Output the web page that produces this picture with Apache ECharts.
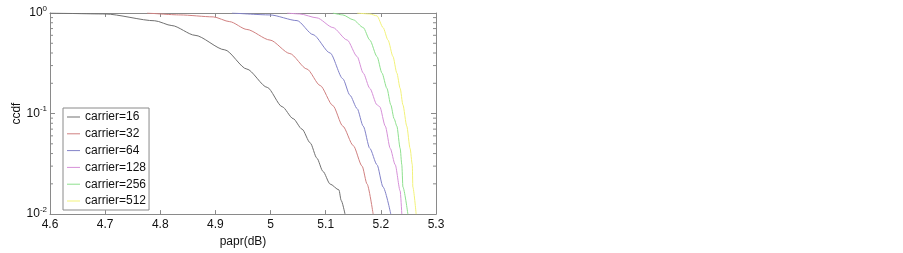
<!DOCTYPE html>
<html>
<head>
<meta charset="utf-8">
<script src="https://cdn.jsdelivr.net/npm/echarts@6/dist/echarts.min.js"></script>
<style>
html,body{margin:0;padding:0;background:#fff;}
#c{width:903px;height:253px;}
</style>
</head>
<body>
<div id="c"></div>
<script>
var seriesNames = ['carrier=16','carrier=32','carrier=64','carrier=128','carrier=256','carrier=512'];
var seriesColors = ['#707070','#d08080','#8282c8','#d690d8','#8ee08e','#f2f27a'];

var papr16 = [4.6,4.70,4.79,4.821,4.863,4.917,4.957,4.994,5.021,5.041,5.057,5.072,5.084,5.095,5.108,5.124,5.128,5.135];
var ccdf16 = [1.0,0.978,0.837,0.75,0.60,0.43,0.277,0.182,0.117,0.089,0.070,0.051,0.036,0.0266,0.0199,0.0174,0.0137,0.010];

var papr32 = [4.776,4.836,4.896,4.926,4.957,4.999,5.035,5.066,5.090,5.113,5.131,5.150,5.166,5.175,5.186];
var ccdf32 = [1.0,0.957,0.915,0.82,0.686,0.538,0.395,0.277,0.19,0.12,0.075,0.048,0.030,0.0199,0.010];

var papr64 = [4.930,4.999,5.048,5.077,5.108,5.131,5.144,5.157,5.168,5.180,5.193,5.204,5.218];
var ccdf64 = [1.0,0.957,0.84,0.61,0.40,0.222,0.152,0.112,0.075,0.045,0.031,0.0186,0.010];

var papr128 = [5.030,5.053,5.084,5.113,5.139,5.157,5.168,5.180,5.193,5.198,5.208,5.217,5.226,5.235,5.238];
var ccdf128 = [1.0,0.978,0.895,0.717,0.538,0.369,0.253,0.178,0.122,0.117,0.075,0.045,0.031,0.017,0.010];

var papr256 = [5.113,5.131,5.150,5.168,5.180,5.193,5.202,5.211,5.218,5.224,5.229,5.235,5.238,5.240,5.249];
var ccdf256 = [1.0,0.957,0.856,0.717,0.538,0.369,0.253,0.178,0.122,0.089,0.075,0.045,0.031,0.0186,0.010];

var papr512 = [5.157,5.180,5.193,5.204,5.213,5.222,5.229,5.235,5.240,5.247,5.253,5.257,5.258,5.264];
var ccdf512 = [1.0,0.978,0.936,0.717,0.538,0.369,0.253,0.178,0.122,0.075,0.045,0.031,0.0186,0.010];

var minorTickVals = [0.02,0.03,0.04,0.05,0.06,0.07,0.08,0.09,0.2,0.3,0.4,0.5,0.6,0.7,0.8,0.9];

var allX = [papr16,papr32,papr64,papr128,papr256,papr512];
var allY = [ccdf16,ccdf32,ccdf64,ccdf128,ccdf256,ccdf512];

function zip(a,b){ return a.map(function(v,i){ return [v,b[i]]; }); }

var axisCol = '#8a8a8a';
var font = 'Liberation Sans, Arial, sans-serif';

var series = seriesNames.map(function(n,i){
  return {
    name: n, type: 'line', data: zip(allX[i], allY[i]),
    symbol: 'none', showSymbol: false, smooth: 0.25, smoothMonotone: 'x',
    lineStyle: {color: seriesColors[i], width: 1},
    itemStyle: {color: seriesColors[i]},
    emphasis: {disabled: true}, animation: false, z: 3
  };
});

series.push({
  type: 'custom', silent: true, animation: false, z: 1,
  data: minorTickVals.map(function(v){ return [v]; }),
  renderItem: function(params, api){
    var v = api.value(0);
    var pl = api.coord([4.6, v]);
    var pr = api.coord([5.3, v]);
    return {type: 'group', children: [
      {type:'line', shape:{x1:pl[0], y1:pl[1], x2:pl[0]+3, y2:pl[1]}, style:{stroke:axisCol, lineWidth:1}},
      {type:'line', shape:{x1:pr[0], y1:pr[1], x2:pr[0]-3, y2:pr[1]}, style:{stroke:axisCol, lineWidth:1}}
    ]};
  }
});

var chart = echarts.init(document.getElementById('c'), null, {renderer: 'canvas'});
chart.setOption({
  animation: false,
  backgroundColor: '#fff',
  grid: {left: 50, right: 467, top: 13, bottom: 32, containLabel: false},
  legend: {
    show: true, orient: 'vertical', left: 63, top: 108,
    data: seriesNames.map(function(n){ return {name: n, icon: 'rect'}; }),
    itemWidth: 13, itemHeight: 1, itemGap: 4.8,
    padding: [3, 3, 3, 4],
    borderColor: axisCol, borderWidth: 1, backgroundColor: '#fff',
    selectedMode: false,
    textStyle: {fontFamily: font, fontSize: 12, color: '#111', lineHeight: 12}
  },
  xAxis: [{
    type: 'value', min: 4.6, max: 5.3, interval: 0.1, position: 'bottom',
    name: 'papr(dB)', nameLocation: 'middle', nameGap: 21,
    nameTextStyle: {fontFamily: font, fontSize: 12, color: '#111'},
    axisLine: {show: true, lineStyle: {color: axisCol, width: 1}},
    axisTick: {show: true, inside: true, length: 4, lineStyle: {color: axisCol}},
    axisLabel: {fontFamily: font, fontSize: 12, color: '#111', margin: 5,
      formatter: function(v){ return String(parseFloat(v.toFixed(1))); }},
    splitLine: {show: false}
  },{
    type: 'value', min: 4.6, max: 5.3, interval: 0.1, position: 'top',
    axisLine: {show: true, lineStyle: {color: axisCol, width: 1}},
    axisTick: {show: true, inside: true, length: 4, lineStyle: {color: axisCol}},
    axisLabel: {show: false}, splitLine: {show: false}
  }],
  yAxis: [{
    type: 'log', logBase: 10, min: 0.01, max: 1, position: 'left',
    name: 'ccdf', nameLocation: 'middle', nameGap: 22, nameRotate: 90,
    nameTextStyle: {fontFamily: font, fontSize: 12, color: '#111'},
    axisLine: {show: true, lineStyle: {color: axisCol, width: 1}},
    axisTick: {show: true, inside: true, length: 5, lineStyle: {color: axisCol}},
    axisLabel: {fontFamily: font, fontSize: 12, color: '#111', margin: 3,
      formatter: function(v){ var e = Math.round(Math.log10(v)); return '{b|10}{s|' + e + '}'; },
      rich: {b: {fontFamily: font, fontSize: 12, color: '#111'},
             s: {fontFamily: font, fontSize: 8, color: '#111', verticalAlign: 'bottom', padding: [0,0,9,0]}}
    },
    splitLine: {show: false}
  },{
    type: 'log', logBase: 10, min: 0.01, max: 1, position: 'right',
    axisLine: {show: true, lineStyle: {color: axisCol, width: 1}},
    axisTick: {show: true, inside: true, length: 5, lineStyle: {color: axisCol}},
    axisLabel: {show: false}, splitLine: {show: false}
  }],
  series: series
});
</script>
</body>
</html>
